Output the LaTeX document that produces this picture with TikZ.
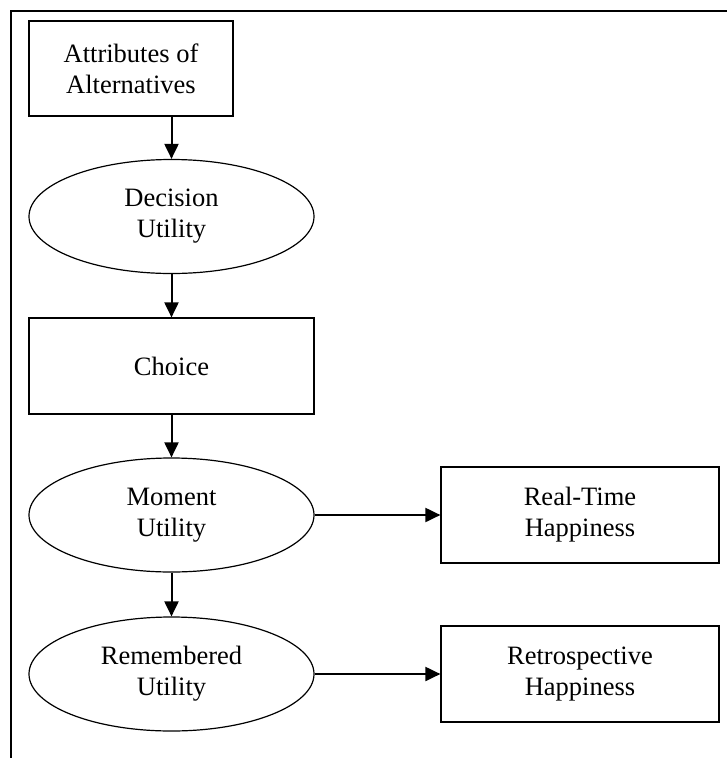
\documentclass[tikz,border=0pt]{standalone}
\usepackage{fontspec}
\setmainfont{Liberation Serif}
\usetikzlibrary{shapes.geometric,arrows.meta}

\begin{document}
\begin{tikzpicture}[x=1pt, y=-1pt, >={Triangle[length=15pt,width=14pt]},
    box/.style={draw, line width=1.2pt, minimum width=278pt, minimum height=96pt,
        align=center, inner sep=0pt, font=\fontsize{26.5}{31}\selectfont},
    oval/.style={draw, ellipse, line width=1.2pt, minimum width=285pt, minimum height=114pt,
        align=center, inner sep=0pt, font=\fontsize{26.5}{31}\selectfont},
    link/.style={->, line width=2pt}]
    \useasboundingbox (0,0) rectangle (727,758);
    % Open frame, top and left sides only.
    \draw[line width=1.4pt] (727,11) -- (11,11) -- (11,758);

    \node[box, minimum width=204pt, minimum height=95pt] (attr) at (131,68.5) {Attributes of\\Alternatives};
    \node[oval] (decision) at (171.5,216.5) {Decision\\Utility};
    \node[box, minimum width=285pt] (choice) at (171.5,366) {Choice};
    \node[oval] (moment) at (171.5,515) {Moment\\Utility};
    \node[oval] (remembered) at (171.5,674) {Remembered\\Utility};
    \node[box] (realtime) at (580,515) {Real-Time\\Happiness};
    \node[box] (retro) at (580,674) {Retrospective\\Happiness};

    \draw[link] (attr.south -| decision.north) -- (decision.north);
    \draw[link] (decision) -- (choice);
    \draw[link] (choice) -- (moment);
    \draw[link] (moment) -- (remembered);
    \draw[link] (moment) -- (realtime);
    \draw[link] (remembered) -- (retro);
\end{tikzpicture}
\end{document}
